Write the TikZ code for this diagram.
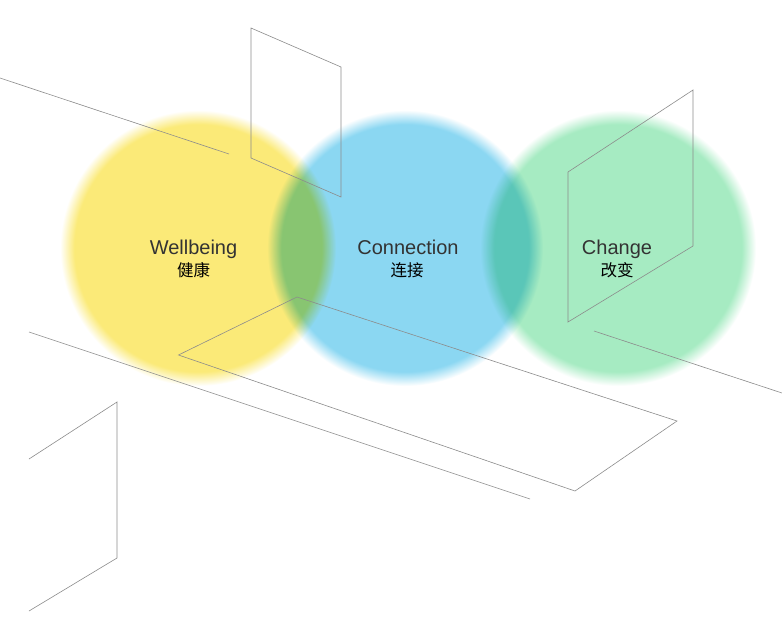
\documentclass[tikz,border=0pt]{standalone}
\usepackage{fontspec}
\setmainfont{Liberation Sans}
\newfontfamily\cjk{Noto Sans CJK SC}
\definecolor{cyellow}{HTML}{FBEA78}
\definecolor{cblue}{HTML}{8BD7F2}
\definecolor{cgreen}{HTML}{A6EBC2}
\definecolor{linegray}{HTML}{8C8C8C}
\definecolor{textgray}{HTML}{333333}
\pgfdeclareradialshading{blurY}{\pgfpoint{0bp}{0bp}}{color(0bp)=(cyellow); color(22.4bp)=(cyellow); color(25bp)=(white); color(50bp)=(white)}
\pgfdeclareradialshading{blurB}{\pgfpoint{0bp}{0bp}}{color(0bp)=(cblue); color(22.4bp)=(cblue); color(25bp)=(white); color(50bp)=(white)}
\pgfdeclareradialshading{blurG}{\pgfpoint{0bp}{0bp}}{color(0bp)=(cgreen); color(22.4bp)=(cgreen); color(25bp)=(white); color(50bp)=(white)}
\tikzset{
  thinline/.style={draw=linegray, line width=0.6pt, line join=miter},
  blob/.style={circle, minimum size=276pt, inner sep=0pt, draw=none, blend mode=multiply},
  en/.style={anchor=base, text=textgray, font=\fontsize{20}{24}\selectfont},
  zh/.style={anchor=base, text=black, font=\cjk\fontsize{16.5}{20}\selectfont},
}
\begin{document}
\begin{tikzpicture}[x=1pt, y=-1pt]
\useasboundingbox (0,0) rectangle (782,626);
\fill[white] (0,0) rectangle (782,626);
% blurred circles
\node[blob, shading=blurY] (cy) at (198,248) {};
\node[blob, shading=blurB] (cb) at (405,248) {};
\node[blob, shading=blurG] (cg) at (618,248) {};
% labels
\node[en] (t1) at (193.5,254) {Wellbeing};
\node[zh] (z1) at (193.5,276) {健康};
\node[en] (t2) at (408,254) {Connection};
\node[zh] (z2) at (407,276) {连接};
\node[en] (t3) at (617,254) {Change};
\node[zh] (z3) at (617,276) {改变};
% line work
\draw[thinline] (0,78) -- (229,154);
\draw[thinline] (251,28) -- (341,67) -- (341,197) -- (251,158) -- cycle;
\draw[thinline] (568,172) -- (693,90) -- (693,246) -- (568,322) -- cycle;
\draw[thinline] (594,331) -- (782,393);
\draw[thinline] (29,332) -- (530,499);
\draw[thinline] (297,297) -- (677,421) -- (575,491) -- (178.5,355) -- cycle;
\draw[thinline] (29,459) -- (117,402) -- (117,558) -- (29,611);
\end{tikzpicture}
\end{document}
